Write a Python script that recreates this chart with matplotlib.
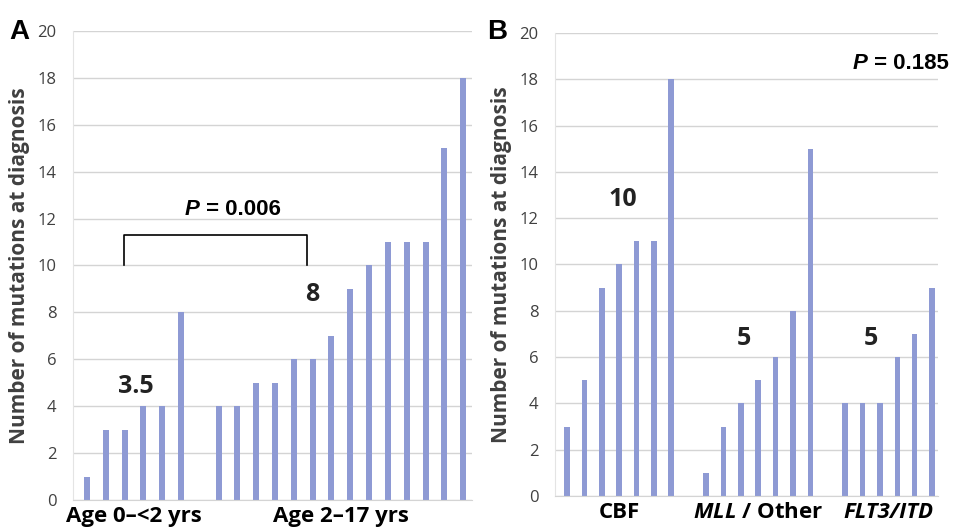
import matplotlib.pyplot as plt

# Panel A: mutations by age group
age_young = [1, 3, 3, 4, 4, 8]
age_old = [4, 4, 5, 5, 6, 6, 7, 9, 10, 11, 11, 11, 15, 18]
age_labels = ["Age 0\u2013<2 yrs", "Age 2\u201317 yrs"]
age_medians = ["3.5", "8"]
p_age = "0.006"

# Panel B: mutations by subtype
cbf = [3, 5, 9, 10, 11, 11, 18]
mll = [1, 3, 4, 5, 6, 8, 15]
flt3 = [4, 4, 4, 6, 7, 9]
sub_labels = ["CBF", "$MLL$ / Other", "FLT3/ITD"]
sub_medians = ["10", "5", "5"]
p_sub = "0.185"

bar_color = "#8e9ad4"
grid_color = "#d4d4d4"
text_color = "#404040"
plt.rcParams['font.family'] = ['Open Sans', 'DejaVu Sans']
plt.rcParams['mathtext.fontset'] = 'custom'
plt.rcParams['mathtext.it'] = 'Open Sans:italic:bold'
plt.rcParams['mathtext.rm'] = 'Open Sans:bold'

fig = plt.figure(figsize=(9.58, 5.32), dpi=100)


def positions(groups):
    xs, centers, start = [], [], 0
    for g in groups:
        p = list(range(start, start + len(g)))
        xs.append(p)
        centers.append((p[0] + p[-1]) / 2)
        start += len(g) + 1
    return xs, centers


def style(ax):
    ax.set_ylim(0, 20)
    ax.set_yticks(range(0, 21, 2))
    ax.yaxis.grid(True, color=grid_color, linewidth=1)
    ax.set_axisbelow(True)
    for s in ["top", "right"]:
        ax.spines[s].set_visible(False)
    ax.spines["left"].set_color("#e4e4e4")
    ax.spines["bottom"].set_color(grid_color)
    ax.tick_params(axis="y", length=0, labelsize=12, labelcolor=text_color, pad=12)
    ax.tick_params(axis="x", length=0, labelsize=16, labelcolor="black", pad=4)
    ax.set_ylabel("Number of mutations at diagnosis", fontsize=15,
                  fontweight="bold", color=text_color, labelpad=5)


def p_text(ax, x, y, val):
    ax.text(x, y, "P", ha="right", va="center", fontsize=16, fontweight="bold",
            fontstyle="italic", family="Liberation Sans")
    ax.text(x, y, " = " + val, ha="left", va="center", fontsize=16,
            fontweight="bold", family="Liberation Sans")


# ---- Panel A ----
axA = fig.add_axes([0.0762, 0.0602, 0.4165, 0.8815])
groupsA = [age_young, age_old]
xsA, centA = positions(groupsA)
for p, g in zip(xsA, groupsA):
    axA.bar(p, g, width=0.32, color=bar_color)
axA.set_xlim(-0.74, 20.47)
style(axA)
axA.set_xticks(centA)
axA.set_xticklabels(age_labels, fontweight="bold")
# bracket between group medians
axA.plot([1.95, 1.95, 11.7, 11.7], [10, 11.3, 11.3, 10], color="black", lw=1.2)
p_text(axA, 6.0, 12.4, p_age)
axA.text(2.6, 4.85, age_medians[0], ha="center", va="center", fontsize=18,
         fontweight="bold", color="#222222")
axA.text(12.0, 8.77, age_medians[1], ha="center", va="center", fontsize=18,
         fontweight="bold", color="#222222")
fig.text(0.010, 0.94, "A", fontsize=20, fontweight="bold", va="center",
         family="Liberation Sans")

# ---- Panel B ----
axB = fig.add_axes([0.5793, 0.0677, 0.3998, 0.8703])
groupsB = [cbf, mll, flt3]
xsB, centB = positions(groupsB)
for p, g in zip(xsB, groupsB):
    axB.bar(p, g, width=0.32, color=bar_color)
axB.set_xlim(-0.69, 21.34)
style(axB)
axB.set_xticks(centB)
axB.set_xticklabels(sub_labels, fontweight="bold")
axB.get_xticklabels()[2].set_fontstyle("italic")
p_text(axB, 17.3, 18.7, p_sub)
for x, y, t in zip([3.2, 10.2, 17.5], [12.8, 6.8, 6.8], sub_medians):
    axB.text(x, y, t, ha="center", va="center", fontsize=18,
             fontweight="bold", color="#222222")
fig.text(0.508, 0.94, "B", fontsize=20, fontweight="bold", va="center",
         family="Liberation Sans")

fig.savefig("out.png", dpi=100)
